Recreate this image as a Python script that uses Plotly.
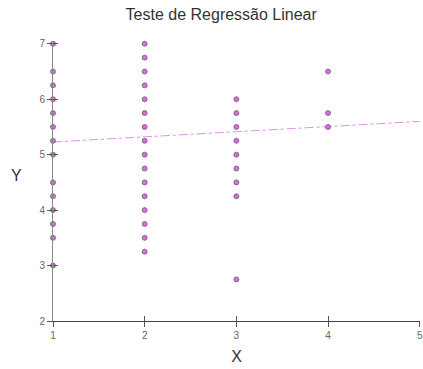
import plotly.graph_objects as go

# Observations grouped by X value
x1_vals = [7, 6.5, 6.25, 6, 5.75, 5.5, 5.25, 5, 4.5, 4.25, 4, 3.75, 3.5, 3]
x2_vals = [7, 6.75, 6.5, 6.25, 6, 5.75, 5.5, 5.25, 5, 4.75, 4.5, 4.25, 4, 3.75, 3.5, 3.25]
x3_vals = [6, 5.75, 5.5, 5.25, 5, 4.75, 4.5, 4.25, 2.75]
x4_vals = [6.5, 5.75, 5.5]

# Fitted regression line
reg_intercept = 5.135
reg_slope = 0.093
line_x = [1, 5]

x_ticks = [1, 2, 3, 4, 5]
y_ticks = [2, 3, 4, 5, 6, 7]

xs, ys = [], []
for xv, vals in zip([1, 2, 3, 4], [x1_vals, x2_vals, x3_vals, x4_vals]):
    xs += [xv] * len(vals)
    ys += vals

line_y = [reg_intercept + reg_slope * v for v in line_x]

FONT = "Arial, Liberation Sans, sans-serif"
x_range = [1, 5.003]
y_range = [2, 7.05]

fig = go.Figure()
fig.add_trace(go.Scatter(
    x=line_x, y=line_y, mode="lines",
    line=dict(color="#e58ee5", width=1, dash="dashdot"),
    hoverinfo="skip", showlegend=False,
))
fig.add_trace(go.Scatter(
    x=xs, y=ys, mode="markers",
    marker=dict(symbol="circle", size=5, color="#d570d9",
                line=dict(color="#734673", width=0.7)),
    cliponaxis=False,
    showlegend=False,
))
# invisible trace on the overlay axes so the inner tick marks render
fig.add_trace(go.Scatter(x=[1], y=[2], xaxis="x2", yaxis="y2",
                         mode="markers", marker=dict(opacity=0),
                         hoverinfo="skip", showlegend=False))

axis_font = dict(family=FONT, size=10, color="#666666")

fig.update_layout(
    width=423, height=369,
    margin=dict(l=53, r=0, t=41, b=48),
    paper_bgcolor="white", plot_bgcolor="white",
    title=dict(text="Teste de Regressão Linear", x=0.523, xanchor="center",
               y=0.962, yanchor="middle",
               font=dict(family=FONT, size=16, color="#333333")),
    xaxis=dict(range=x_range, tickvals=x_ticks, ticks="outside", ticklen=5,
               tickcolor="#555555", showgrid=False, zeroline=False,
               showline=True, linecolor="#444444", linewidth=1,
               tickfont=axis_font, ticklabeloverflow="allow",
               title=dict(text="X", standoff=10,
                          font=dict(family=FONT, size=16, color="#333333"))),
    yaxis=dict(range=y_range, tickvals=y_ticks, ticks="outside", ticklen=5,
               tickcolor="#555555", showgrid=False, zeroline=False,
               showline=True, linecolor="#888888", linewidth=1,
               tickfont=axis_font),
    xaxis2=dict(range=x_range, tickvals=x_ticks, ticks="inside", ticklen=5,
                tickcolor="#555555", overlaying="x", showticklabels=False,
                showgrid=False, zeroline=False, showline=False),
    yaxis2=dict(range=y_range, tickvals=y_ticks, ticks="inside", ticklen=5,
                tickcolor="#555555", overlaying="y", showticklabels=False,
                showgrid=False, zeroline=False, showline=False),
    annotations=[dict(text="Y", xref="paper", yref="paper",
                      x=-0.1, y=0.52, xanchor="center", yanchor="middle",
                      showarrow=False,
                      font=dict(family=FONT, size=16, color="#333333"))],
)

fig.write_html("out.html")
